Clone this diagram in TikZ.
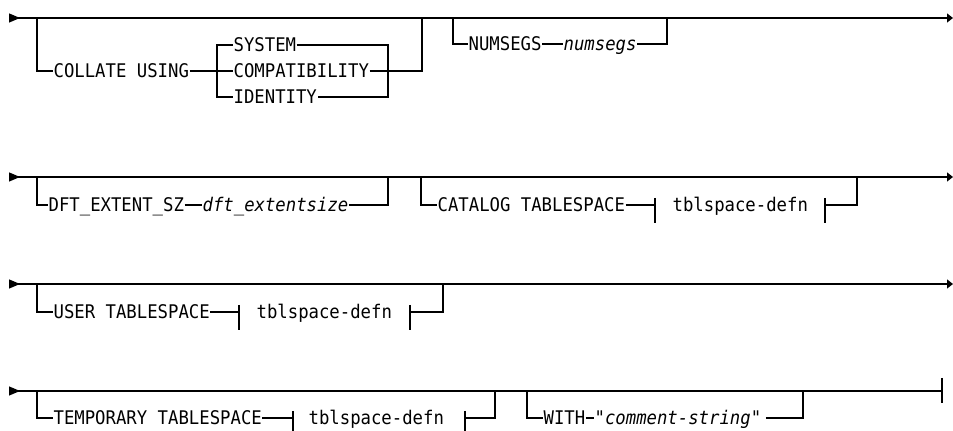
\documentclass[tikz,border=0pt]{standalone}
\usepackage{fontspec}
\newfontfamily\railfont{DejaVu Sans Mono}[FakeStretch=0.92]
\usetikzlibrary{arrows.meta}

\tikzset{
  kw/.style={anchor=west,inner sep=0pt,text height=6.85pt,text depth=0pt,
    font=\railfont\fontsize{9.4}{11}\selectfont},
  var/.style={kw,font=\railfont\itshape\fontsize{9.4}{11}\selectfont},
  railstart/.style={{Triangle[reversed,length=5.5pt,width=4.5pt]}-},
  railboth/.style={{Triangle[reversed,length=5.5pt,width=4.5pt]}-{Triangle[length=3pt,width=4.5pt]}},
}

\begin{document}
\begin{tikzpicture}[x=0.5pt,y=-0.5pt,line width=0.6pt]
  \useasboundingbox (0,0) rectangle (953,431);

  % row 1
  \coordinate (s1) at (9,18);
  \coordinate (e1) at (953,18);
  \coordinate (c1a) at (37,18);
  \coordinate (c1b) at (422,18);
  \coordinate (c1c) at (453,18);
  \coordinate (c1d) at (667,18);
  \draw[railboth] (s1) -- (e1);
  \node[kw] (collate) at (53,71) {COLLATE USING};
  \node[kw] (system) at (233,45) {SYSTEM};
  \node[kw] (compat) at (233,71) {COMPATIBILITY};
  \node[kw] (identity) at (233,97) {IDENTITY};
  \draw (c1a) |- (collate.west);
  \draw (collate.east) -- (compat.west);
  \draw (system.west) -- (217,45) |- (identity.west);
  \draw (system.east) -- (388,45) |- (identity.east);
  \draw (compat.east) -| (c1b);
  \node[kw] (numsegs) at (468,44) {NUMSEGS};
  \node[var] (numsegsv) at (563,44) {numsegs};
  \draw (c1c) |- (numsegs.west);
  \draw (numsegs.east) -- (numsegsv.west);
  \draw (numsegsv.east) -| (c1d);

  % row 2
  \coordinate (s2) at (9,177);
  \coordinate (e2) at (953,177);
  \coordinate (c2a) at (37,177);
  \coordinate (c2b) at (388,177);
  \coordinate (c2c) at (421,177);
  \coordinate (c2d) at (857,177);
  \coordinate (k1l) at (655,205);
  \coordinate (k1r) at (825,205);
  \draw[railboth] (s2) -- (e2);
  \node[kw] (dft) at (48,205) {DFT\_EXTENT\_SZ};
  \node[var] (dftv) at (202,205) {dft\_extentsize};
  \node[kw] (catalog) at (437,205) {CATALOG TABLESPACE};
  \node[kw] (defn1) at (672,205) {tblspace-defn};
  \draw (c2a) |- (dft.west);
  \draw (dft.east) -- (dftv.west);
  \draw (dftv.east) -| (c2b);
  \draw (c2c) |- (catalog.west);
  \draw (catalog.east) -- (k1l);
  \draw ([yshift=3.5pt]k1l) -- ++(0,25);
  \draw ([yshift=3.5pt]k1r) -- ++(0,25);
  \draw (k1r) -| (c2d);

  % row 3
  \coordinate (s3) at (9,284);
  \coordinate (e3) at (953,284);
  \coordinate (c3a) at (37,284);
  \coordinate (c3b) at (443,284);
  \coordinate (k2l) at (239,312);
  \coordinate (k2r) at (410,312);
  \draw[railboth] (s3) -- (e3);
  \node[kw] (user) at (53,312) {USER TABLESPACE};
  \node[kw] (defn2) at (256,312) {tblspace-defn};
  \draw (c3a) |- (user.west);
  \draw (user.east) -- (k2l);
  \draw ([yshift=3.5pt]k2l) -- ++(0,25);
  \draw ([yshift=3.5pt]k2r) -- ++(0,25);
  \draw (k2r) -| (c3b);

  % row 4
  \coordinate (s4) at (9,391);
  \coordinate (e4) at (942,391);
  \coordinate (c4a) at (37,391);
  \coordinate (c4b) at (495,391);
  \coordinate (c4c) at (527,391);
  \coordinate (c4d) at (803,391);
  \coordinate (k3l) at (293,418);
  \coordinate (k3r) at (465,418);
  \draw[railstart] (s4) -- (e4);
  \draw ([yshift=6.5pt]e4) -- ([yshift=-6pt]e4);
  \draw[line width=1.3pt] (809,391) -- (830,391);
  \node[kw] (temp) at (53,418) {TEMPORARY TABLESPACE};
  \node[kw] (defn3) at (308,418) {tblspace-defn};
  \node[kw] (with) at (543,418) {WITH};
  \node[var] (comment) at (594,418) {"comment-string"};
  \draw (c4a) |- (temp.west);
  \draw (temp.east) -- (k3l);
  \draw ([yshift=3.5pt]k3l) -- ++(0,25);
  \draw ([yshift=3.5pt]k3r) -- ++(0,25);
  \draw (k3r) -| (c4b);
  \draw (c4c) |- (with.west);
  \draw (with.east) -- (comment.west);
  \draw ([xshift=2pt]comment.east) -| (c4d);
\end{tikzpicture}
\end{document}
